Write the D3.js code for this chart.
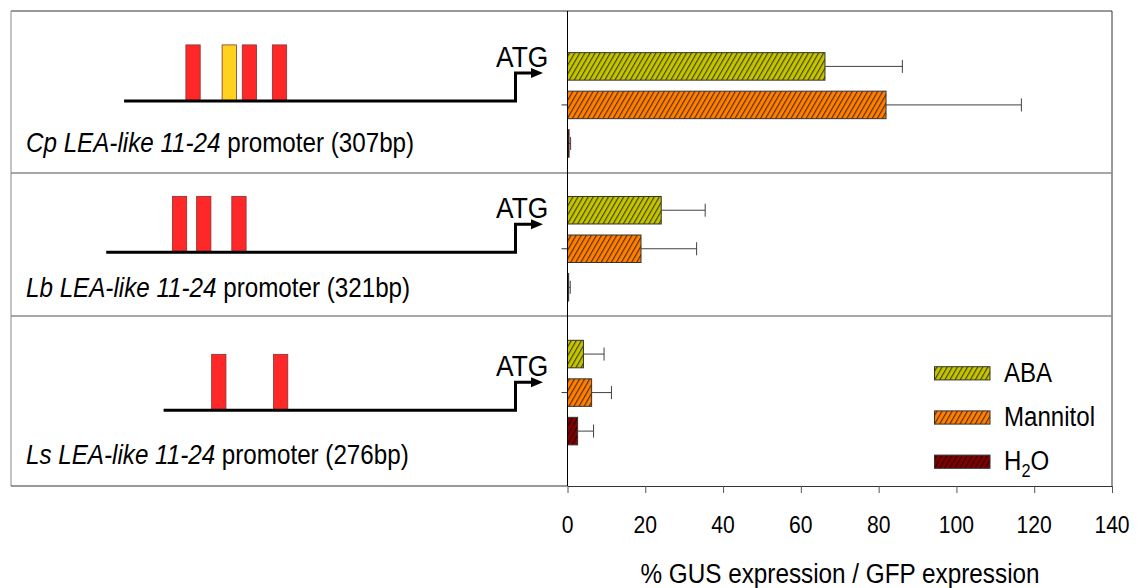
<!DOCTYPE html>
<html>
<head>
<meta charset="utf-8">
<script src="https://cdn.jsdelivr.net/npm/d3@7"></script>
<style>
  body { margin: 0; background: #fff; }
  svg { display: block; font-family: "Liberation Sans", Arial, sans-serif; }
</style>
</head>
<body>
<div id="chart"></div>
<script>
const width = 1143;
const height = 588;

// promoters (one panel each)
const promoters = ['Cp', 'Lb', 'Ls'];
const promoterLengths = [307, 321, 276];            // bp
// cis-element centres, bp upstream of ATG, and their type (0 red, 1 yellow)
const sitesCp = [252.9, 224.5, 208.7, 185.1];
const sitesLb = [263.5, 244.5, 216.9];
const sitesLs = [232.7, 184.2];
const typesCp = [0, 1, 0, 0];
const typesLb = [0, 0, 0];
const typesLs = [0, 0];

// treatments and measured values (% GUS / GFP)
const treatments = ['ABA', 'Mannitol', 'H2O'];
const meanCp = [66.2, 81.9, 0.4];
const errCp = [19.9, 34.8, 0.4];
const meanLb = [24.1, 18.9, 0.3];
const errLb = [11.3, 14.3, 0.4];
const meanLs = [4.1, 6.2, 2.6];
const errLs = [5.3, 5.1, 4.1];

const xTicks = [0, 20, 40, 60, 80, 100, 120, 140];

const sites = [sitesCp, sitesLb, sitesLs];
const types = [typesCp, typesLb, typesLs];
const means = [meanCp, meanLb, meanLs];
const errs = [errCp, errLb, errLs];

const bars = [];
promoters.forEach((p, i) => {
  treatments.forEach((t, j) => {
    bars.push({ promoter: p, treatment: t, value: means[i][j], err: errs[i][j] });
  });
});

// ---- layout ----
const frame = { left: 11, right: 1112, top: 11, bottom: 486 };
const plotLeft = 567.5;
const panelEdges = [11, 173, 316, 486];

const treatColor = { ABA: '#c4c400', Mannitol: '#ff8000', H2O: '#800000' };
const siteColor = ['#ff2828', '#ffd21f'];

const svg = d3.select('#chart')
  .append('svg')
  .attr('width', width)
  .attr('height', height);

// hatch patterns
const defs = svg.append('defs');
treatments.forEach(t => {
  const pat = defs.append('pattern')
    .attr('id', 'hatch-' + t)
    .attr('patternUnits', 'userSpaceOnUse')
    .attr('width', 4.4)
    .attr('height', 10)
    .attr('patternTransform', 'rotate(30)');
  pat.append('rect').attr('width', 4.4).attr('height', 10).attr('fill', treatColor[t]);
  pat.append('line')
    .attr('x1', 0.6).attr('x2', 0.6).attr('y1', 0).attr('y2', 10)
    .attr('stroke', '#000').attr('stroke-opacity', 0.75).attr('stroke-width', 1);
});

// squeezed text helper (reference type is horizontally condensed)
function squeezed(parent, x, y, size, sx, anchor) {
  return parent.append('text')
    .attr('transform', `translate(${x},${y}) scale(${sx},1)`)
    .attr('font-size', size)
    .attr('text-anchor', anchor || 'start')
    .attr('fill', '#000');
}

// ---- scales ----
const xScale = d3.scaleLinear().domain([0, 140]).range([plotLeft, frame.right]);
const yScale = d3.scaleBand().domain(promoters).range([33, 464.5]);
const half = yScale.bandwidth() * 0.4017;
const yInner = d3.scaleBand()
  .domain(treatments)
  .range([-half, half])
  .paddingInner(0.286)
  .paddingOuter(0.143);
const bpScale = d3.scaleLinear().domain([0, 330]).range([515.5, 515.5 - 330 * 1.275]);

// ---- frame ----
const g = svg.append('g');
g.append('line').attr('x1', frame.left).attr('x2', frame.right)
  .attr('y1', frame.top).attr('y2', frame.top).attr('stroke', '#333');
g.append('line').attr('x1', frame.left).attr('x2', frame.left)
  .attr('y1', frame.top).attr('y2', frame.bottom).attr('stroke', '#888');
g.append('line').attr('x1', frame.right).attr('x2', frame.right)
  .attr('y1', frame.top).attr('y2', frame.bottom).attr('stroke', '#333');
g.append('line').attr('x1', frame.left).attr('x2', plotLeft)
  .attr('y1', frame.bottom).attr('y2', frame.bottom).attr('stroke', '#333');
panelEdges.slice(1, -1).forEach(y => {
  g.append('line').attr('x1', frame.left).attr('x2', frame.right)
    .attr('y1', y).attr('y2', y).attr('stroke', '#8a8a8a').attr('stroke-width', 1.5);
});

// ---- promoter diagrams ----
promoters.forEach((p, i) => {
  const top = panelEdges[i];
  const h = panelEdges[i + 1] - top;
  const lineY = top + 0.555 * h;
  const d = svg.append('g').attr('class', 'promoter');

  d.selectAll('rect')
    .data(sites[i].map((s, k) => ({ bp: s, type: types[i][k] })))
    .join('rect')
    .attr('x', s => bpScale(s.bp) - 7.15)
    .attr('width', 14.3)
    .attr('y', lineY - 56)
    .attr('height', 56)
    .attr('fill', s => siteColor[s.type])
    .attr('stroke', '#8a3030')
    .attr('stroke-width', 0.8);

  const x0 = bpScale(0);
  d.append('path')
    .attr('d', `M${bpScale(promoterLengths[i])},${lineY}H${x0}V${lineY - 28}H533`)
    .attr('fill', 'none')
    .attr('stroke', '#000')
    .attr('stroke-width', 3);
  d.append('path')
    .attr('d', `M531,${lineY - 33}L543,${lineY - 28}L531,${lineY - 23}Z`)
    .attr('fill', '#000');

  squeezed(d, 496, lineY - 34, 30, 0.88).text('ATG');

  const lab = squeezed(d, 26, top + 0.87 * h, 27.5, 0.88);
  lab.append('tspan').attr('font-style', 'italic').text(`${p} LEA-like 11-24`);
  lab.append('tspan').text(` promoter (${promoterLengths[i]}bp)`);
});

// ---- bars ----
const plot = svg.append('g');
plot.selectAll('rect.bar')
  .data(bars)
  .join('rect')
  .attr('class', 'bar')
  .attr('x', xScale(0))
  .attr('y', d => yScale(d.promoter) + yScale.bandwidth() / 2 + yInner(d.treatment))
  .attr('width', d => xScale(d.value) - xScale(0))
  .attr('height', yInner.bandwidth())
  .attr('fill', d => `url(#hatch-${d.treatment})`)
  .attr('stroke', '#333')
  .attr('stroke-width', 1);

const errG = plot.selectAll('g.err')
  .data(bars)
  .join('g')
  .attr('class', 'err')
  .attr('transform', d =>
    `translate(0,${yScale(d.promoter) + yScale.bandwidth() / 2 + yInner(d.treatment) + yInner.bandwidth() / 2})`);
errG.append('line')
  .attr('x1', d => xScale(d.value))
  .attr('x2', d => xScale(d.value + d.err))
  .attr('stroke', '#404040');
errG.append('line')
  .attr('x1', d => xScale(d.value + d.err))
  .attr('x2', d => xScale(d.value + d.err))
  .attr('y1', -6.5).attr('y2', 6.5)
  .attr('stroke', '#404040');

// ---- axes ----
const yAxis = d3.axisLeft(yScale).tickSize(6).tickSizeOuter(0).tickFormat('');
svg.append('g')
  .attr('transform', `translate(${plotLeft},0)`)
  .call(yAxis)
  .call(a => a.select('.domain').remove())
  .call(a => a.selectAll('.tick line').attr('stroke', '#333'));
svg.append('line')
  .attr('x1', plotLeft).attr('x2', plotLeft)
  .attr('y1', frame.top).attr('y2', frame.bottom)
  .attr('stroke', '#000');

const xAxis = d3.axisBottom(xScale).tickValues(xTicks).tickSize(7).tickSizeOuter(0).tickFormat('');
const xg = svg.append('g')
  .attr('transform', `translate(0,${frame.bottom})`)
  .call(xAxis);
xg.select('.domain').attr('stroke', '#333');
xg.selectAll('.tick line').attr('stroke', '#555');

xTicks.forEach(t => {
  squeezed(svg, xScale(t), 533, 24, 0.88, 'middle').text(t);
});

squeezed(svg, 840, 583, 27, 0.9, 'middle').text('% GUS expression / GFP expression');

// ---- legend ----
const legend = svg.append('g');
treatments.forEach((t, i) => {
  const cy = 373.3 + i * 44.2;
  legend.append('rect')
    .attr('x', 934.5).attr('y', cy - 6.6)
    .attr('width', 55.5).attr('height', 13.2)
    .attr('fill', `url(#hatch-${t})`)
    .attr('stroke', '#333');
  const txt = squeezed(legend, 1004, cy + 8.4, 28, 0.86);
  if (t === 'H2O') {
    txt.append('tspan').text('H');
    txt.append('tspan').attr('font-size', 19).attr('dy', 7).text('2');
    txt.append('tspan').attr('dy', -7).text('O');
  } else {
    txt.text(t);
  }
});
</script>
</body>
</html>
